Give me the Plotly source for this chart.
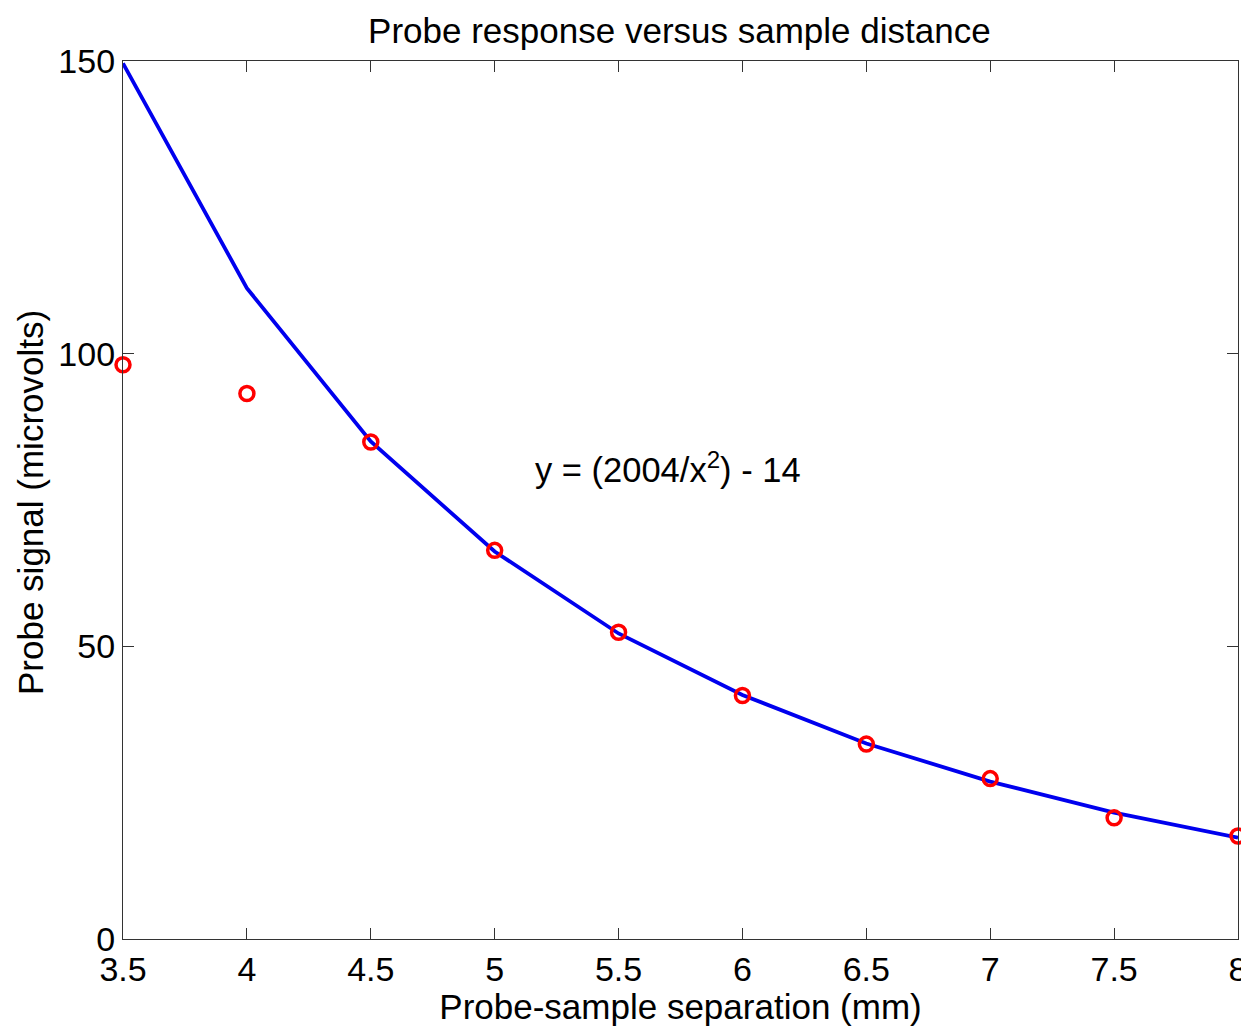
import plotly.graph_objects as go

# Data
separation_mm = [3.5, 4.0, 4.5, 5.0, 5.5, 6.0, 6.5, 7.0, 7.5, 8.0]
measured_uV = [98.1, 93.2, 84.9, 66.4, 52.4, 41.6, 33.3, 27.4, 20.7, 17.6]
fit_uV = [149.6, 111.2, 85.0, 66.2, 52.2, 41.7, 33.4, 26.9, 21.6, 17.3]

x_ticks = [3.5, 4, 4.5, 5, 5.5, 6, 6.5, 7, 7.5, 8]
x_tick_text = ["3.5", "4", "4.5", "5", "5.5", "6", "6.5", "7", "7.5", "8"]
y_ticks = [0, 50, 100, 150]

FONT = "Liberation Sans, Arial, sans-serif"

fig = go.Figure()
fig.add_trace(go.Scatter(
    x=separation_mm, y=fit_uV, mode="lines",
    line=dict(color="#0000ee", width=3.8),
    showlegend=False,
))
fig.add_trace(go.Scatter(
    x=separation_mm, y=measured_uV, mode="markers",
    marker=dict(symbol="circle-open", size=14, color="#ff0000",
                line=dict(width=3.5, color="#ff0000")),
    cliponaxis=False, showlegend=False,
))

fig.add_annotation(
    x=5.7, y=80.5, xref="x", yref="y",
    text="y = (2004/x<sup>2</sup>) - 14", showarrow=False,
    font=dict(family=FONT, size=34.5, color="black"),
)

# y-axis title placed as a rotated annotation for exact positioning
fig.add_annotation(
    x=0, y=0.5, xref="paper", yref="paper", xanchor="center", yanchor="middle",
    xshift=-93, yshift=-3, textangle=-90, showarrow=False,
    text="Probe signal (microvolts)",
    font=dict(family=FONT, size=35, color="black"),
)

axis_common = dict(
    showline=True, linecolor="#333333", linewidth=1.3, mirror="ticks",
    ticks="inside", ticklen=11, tickwidth=1.3, tickcolor="#333333",
    showgrid=False, zeroline=False, automargin=False,
    ticklabeloverflow="allow",
    tickfont=dict(family=FONT, size=34, color="black"),
)

fig.update_layout(
    width=1241, height=1018,
    paper_bgcolor="white", plot_bgcolor="white",
    margin=dict(l=115, r=11, t=53, b=87, autoexpand=False),
    title=dict(text="Probe response versus sample distance",
               font=dict(family=FONT, size=35, color="black"),
               x=0.541, xanchor="center", y=0.978, yanchor="middle"),
    xaxis=dict(range=[3.5, 8], tickvals=x_ticks, ticktext=x_tick_text,
               title=dict(text="Probe-sample separation (mm)", standoff=0,
                          font=dict(family=FONT, size=35, color="black")),
               **axis_common),
    yaxis=dict(range=[0, 150], tickvals=y_ticks, **axis_common),
)

fig.write_html("out.html")
